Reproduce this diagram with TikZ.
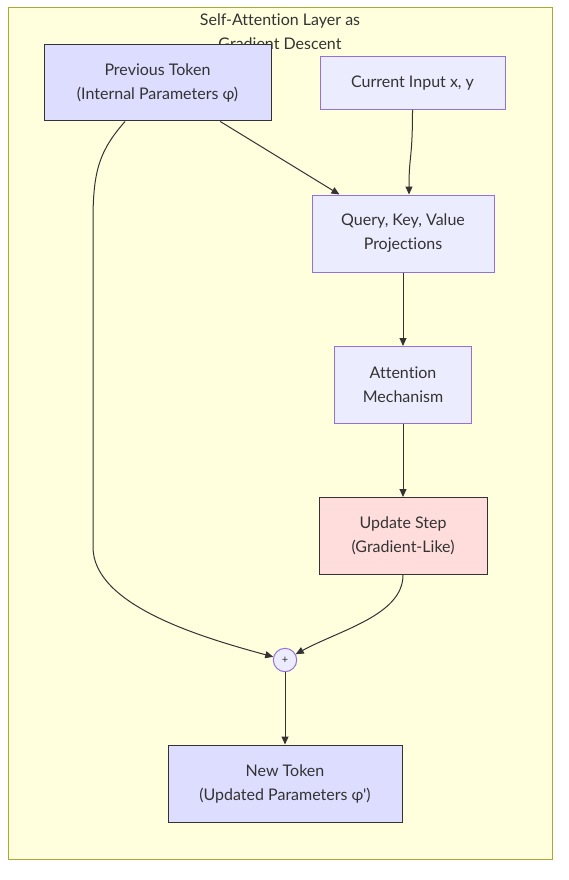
\documentclass[tikz,border=0pt]{standalone}
\usepackage{fontspec}
\setmainfont{Lato}[Ligatures={TeXOff,NoCommon}]
\usetikzlibrary{arrows.meta}
\definecolor{ink}{HTML}{333333}
\definecolor{boxfill}{HTML}{ECECFF}
\definecolor{boxline}{HTML}{9370DB}
\definecolor{tokfill}{HTML}{DDDDFF}
\definecolor{updfill}{HTML}{FFDDDD}
\definecolor{layfill}{HTML}{FFFFDE}
\definecolor{layline}{HTML}{AAAA33}

\begin{document}
\begin{tikzpicture}[x=1pt,y=-1pt,
  >={Triangle[length=8pt,width=7pt]},
  font=\fontsize{16}{24}\selectfont,
  flow/.style={draw=ink,line width=1pt,->},
  plain/.style={draw=boxline,fill=boxfill,line width=1pt,align=center,text=ink,inner sep=0pt},
  token/.style={plain,draw=ink,fill=tokfill},
  update/.style={plain,draw=ink,fill=updfill}]
\useasboundingbox (0,0) rectangle (568,880);
\draw[draw=layline,fill=layfill,line width=1pt] (8,8) rectangle (552,859);
\node[text=ink,align=center] (title) at (280,32) {Self-Attention Layer as\\Gradient Descent};
\node[token,minimum width=227pt,minimum height=76pt] (prev) at (157.5,83) {Previous Token\\(Internal Parameters φ)};
\node[plain,minimum width=185pt,minimum height=53pt] (cur) at (412.5,83) {Current Input x, y};
\node[plain,minimum width=182pt,minimum height=77pt] (qkv) at (403,233.5) {Query, Key, Value\\Projections};
\node[plain,minimum width=137pt,minimum height=77pt] (attn) at (403,385) {Attention\\Mechanism};
\node[update,minimum width=168pt,minimum height=77pt] (upd) at (403,536) {Update Step\\(Gradient-Like)};
\node[plain,circle,minimum size=23.4pt,font=\fontsize{11}{11}\selectfont] (plus) at (285,660) {+};
\node[token,minimum width=234pt,minimum height=77pt] (new) at (285,783.5) {New Token\\(Updated Parameters φ')};
\draw[flow] (prev) -- (qkv);
\draw[flow] (cur.south) .. controls +(0,50) and +(0,-40) .. ([xshift=6pt]qkv.north);
\draw[flow] (qkv) -- (attn);
\draw[flow] (attn) -- (upd);
\draw[flow] ([xshift=-32.5pt]prev.south) .. controls (100,150) and (93,170) .. (93,220) -- (93,547) .. controls (93,605) and (200,637) .. (plus);
\draw[flow] (upd) .. controls (403,615) and (340,630) .. (plus);
\draw[flow] (plus) -- (new);
\end{tikzpicture}
\end{document}
